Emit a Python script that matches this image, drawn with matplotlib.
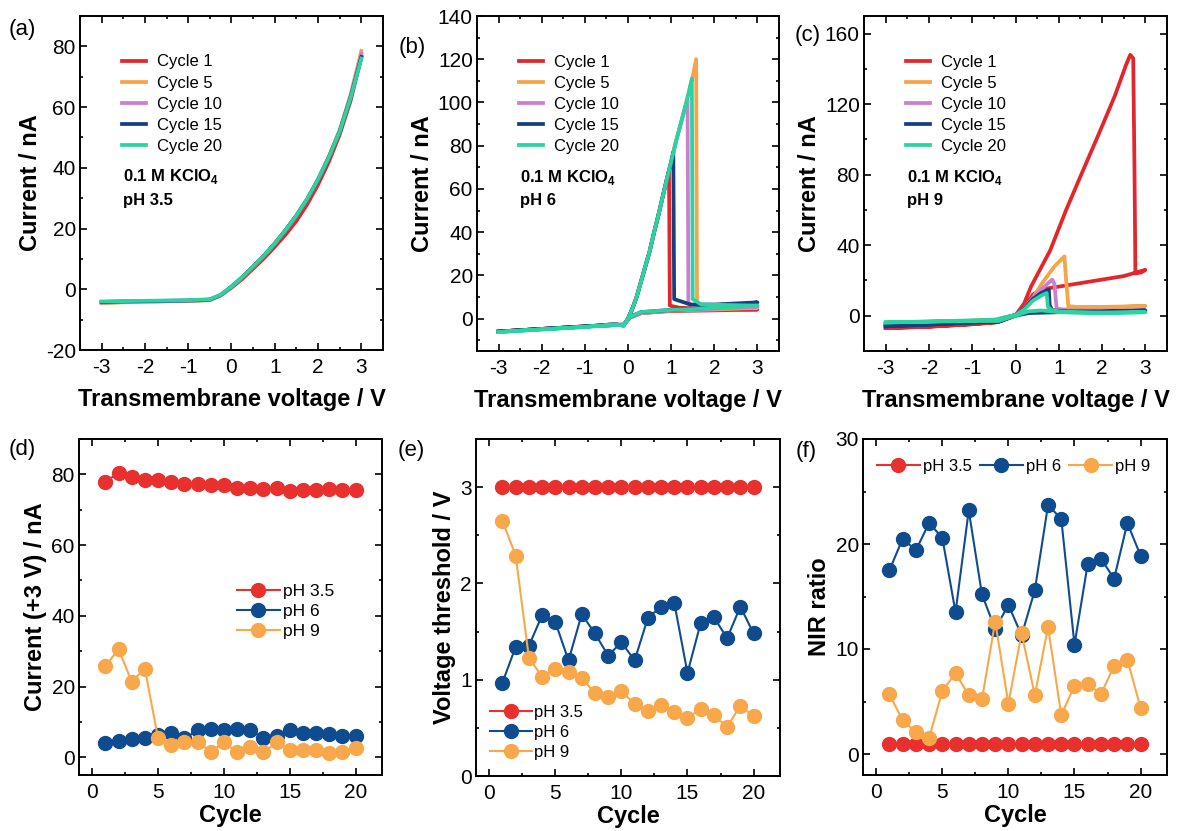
import numpy as np
import matplotlib
matplotlib.use("Agg")
import matplotlib.pyplot as plt
from matplotlib.ticker import MultipleLocator

plt.rcParams['font.family'] = ['Liberation Sans', 'DejaVu Sans']
plt.rcParams['mathtext.fontset'] = 'custom'
plt.rcParams['mathtext.rm'] = 'Liberation Sans'
plt.rcParams['mathtext.bf'] = 'Liberation Sans:bold'
plt.rcParams['axes.unicode_minus'] = False

# ---- I-V curves, panel (a) pH 3.5 ----
a_v = [-3, -2.5, -2, -1.5, -1, -0.5, -0.25, 0, 0.25, 0.5, 0.75, 1, 1.25, 1.5, 1.75, 2, 2.25, 2.5, 2.75, 3]
a_c1 = [-4.3, -4.1, -4.0, -3.9, -3.8, -3.5, -2.0, 0.5, 3.4, 6.8, 10.2, 14.0, 18.0, 22.5, 28.0, 34.5, 42.0, 51.0, 62.0, 76.5]
a_c5 = [-4.6, -4.3, -4.1, -4.0, -3.9, -3.6, -2.0, 0.8, 3.9, 7.4, 11.0, 15.0, 19.5, 24.3, 29.8, 36.3, 43.8, 52.5, 64.0, 78.5]
a_c10 = [-4.4, -4.2, -4.0, -3.9, -3.8, -3.5, -1.9, 0.8, 3.9, 7.4, 11.0, 15.0, 19.4, 24.2, 29.6, 36.0, 43.5, 52.2, 63.5, 77.5]
a_c15 = [-4.2, -4.0, -3.9, -3.8, -3.7, -3.4, -1.9, 0.9, 4.0, 7.5, 11.1, 15.1, 19.5, 24.3, 29.7, 36.1, 43.5, 52.0, 63.2, 76.5]
a_c20 = [-4.0, -3.9, -3.8, -3.7, -3.6, -3.3, -1.8, 0.9, 4.0, 7.5, 11.1, 15.1, 19.5, 24.3, 29.8, 36.2, 43.5, 52.0, 63.0, 76.0]

# ---- panel (b) pH 6 ----
b_c1_v = [-3, -2, -1, -0.3, -0.1, 0.0, 0.1, 0.2, 0.3, 0.4, 0.5, 0.6, 0.7, 0.8, 0.9, 0.95, 0.97, 1.2, 2.0, 3.0,
          2.0, 1.0, 0.3, 0.05, -0.1, -1, -2, -3]
b_c1_i = [-6, -4.8, -3.7, -2.6, -3.2, 0.0, 4.5, 10, 17, 24, 31, 39.5, 47.5, 56, 64.5, 68.5, 6, 5, 4.5, 4.2,
          3.8, 3.5, 2.5, 0.5, -2.8, -3.6, -4.8, -6]
b_c5_v = [-3, -2, -1, -0.3, -0.1, 0.0, 0.1, 0.2, 0.3, 0.4, 0.5, 0.6, 0.7, 0.8, 0.9, 1.0, 1.1, 1.2, 1.3, 1.4, 1.5, 1.58,
          1.6, 2.2, 3.0, 2.0, 1.0, 0.3, 0.05, -0.1, -1, -2, -3]
b_c5_i = [-6, -4.8, -3.7, -2.6, -3.2, 0.0, 4.5, 10, 17, 24, 31, 39.5, 47.5, 56, 64.5, 72.5, 81, 88.5, 96, 104, 112, 120,
          5.5, 5.2, 5.0, 4.2, 3.8, 2.5, 0.5, -2.8, -3.6, -4.8, -6]
b_c10_v = [-3, -2, -1, -0.3, -0.1, 0.0, 0.1, 0.2, 0.3, 0.4, 0.5, 0.6, 0.7, 0.8, 0.9, 1.0, 1.1, 1.2, 1.3, 1.38,
           1.4, 1.6, 3.0, 2.0, 1.0, 0.3, 0.05, -0.1, -1, -2, -3]
b_c10_i = [-6, -4.8, -3.7, -2.6, -3.2, 0.0, 4.5, 10, 17, 24, 31, 39.5, 47.5, 56, 64.5, 72.5, 81, 88.5, 96, 101,
           7, 5.5, 5.5, 4.5, 3.8, 2.5, 0.5, -2.8, -3.6, -4.8, -6]
b_c15_v = [-3, -2, -1, -0.3, -0.1, 0.0, 0.1, 0.2, 0.3, 0.4, 0.5, 0.6, 0.7, 0.8, 0.9, 1.0, 1.05,
           1.07, 1.3, 1.45, 2.0, 2.5, 3.0, 2.0, 1.0, 0.3, 0.05, -0.1, -1, -2, -3]
b_c15_i = [-6, -4.8, -3.7, -2.6, -3.2, 0.0, 4.5, 10, 17, 24, 31, 39.5, 47.5, 56, 64.5, 72.5, 77,
           9, 7.5, 6.5, 6.5, 7, 7.5, 5, 4, 3, 0.8, -2.8, -3.6, -4.8, -6]
b_c20_v = [-3, -2, -1, -0.3, -0.1, 0.0, 0.1, 0.2, 0.3, 0.4, 0.5, 0.6, 0.7, 0.8, 0.9, 1.0, 1.1, 1.2, 1.3, 1.4, 1.48,
           1.5, 1.7, 3.0, 2.0, 1.0, 0.3, 0.05, -0.1, -1, -2, -3]
b_c20_i = [-6.2, -5.0, -3.9, -2.7, -3.3, 0.0, 4.5, 10, 17, 24, 31, 39.5, 47.5, 56, 64.5, 72.5, 81, 88.5, 96, 104, 111,
           9, 6.5, 6.0, 4.8, 4.0, 3.0, 0.8, -2.8, -3.8, -5.0, -6.2]

# ---- panel (c) pH 9 ----
c_c1_v = [-3, -2, -1, -0.45, -0.35, 0, 0.2, 0.36, 0.8, 1.17, 1.5, 1.94, 2.3, 2.55, 2.65, 2.72, 2.75, 2.77, 2.9, 3.0,
          2.5, 2.0, 1.5, 1.0, 0.6, 0.4, 0.2, 0, -0.4, -1, -2, -3]
c_c1_i = [-7, -6.2, -4.8, -3.8, -3.0, 0.3, 7, 16.6, 37, 60, 79, 104, 125, 142, 148, 146, 80, 24, 24.5, 26,
          22.5, 20.5, 18.5, 16.5, 15, 12, 4, 0, -3.5, -4.8, -6.2, -7]
c_c5_v = [-3, -2, -1, -0.45, -0.35, 0, 0.2, 0.4, 0.6, 0.9, 1.13, 1.17, 1.22, 1.4, 2, 3,
          2, 1, 0.3, 0, -0.4, -1, -2, -3]
c_c5_i = [-4.5, -3.8, -2.8, -2.2, -1.5, 0.5, 4, 10, 18, 28, 33.7, 20, 5.5, 5, 5, 5.5,
          4.5, 3.5, 2, 0.5, -2.5, -2.9, -3.8, -4.5]
c_c10_v = [-3, -2, -1, -0.45, -0.35, 0, 0.2, 0.4, 0.6, 0.8, 0.85, 0.9, 0.95, 1.2, 2, 3,
           2, 1, 0.3, 0, -0.4, -1, -2, -3]
c_c10_i = [-4.8, -4.0, -3.0, -2.4, -1.6, 0.5, 4, 10, 15, 19.5, 20.5, 18, 4, 3, 3, 3,
           2.5, 2.5, 2, 0.3, -2.7, -3.0, -4.0, -4.8]
c_c15_v = [-3, -2, -1, -0.45, -0.35, 0, 0.2, 0.4, 0.6, 0.77, 0.79, 0.85, 1.2, 2, 3,
           2, 1, 0.3, 0, -0.4, -1, -2, -3]
c_c15_i = [-6, -5, -3.8, -3.2, -2.2, 0.5, 4, 9.5, 13, 14.8, 6, 3, 2.5, 2.5, 3,
           2.2, 2, 1.5, 0, -3.5, -3.8, -5, -6]
c_c20_v = [-3, -2, -1, -0.45, -0.35, 0, 0.2, 0.4, 0.6, 0.72, 0.75, 0.85, 1.2, 2, 3,
           2, 1, 0.6, 0.3, 0, -0.4, -1, -2, -3]
c_c20_i = [-3.8, -3.3, -2.6, -2.2, -1.5, 0.4, 3.5, 8.5, 11.5, 12.9, 5, 3, 2, 1.8, 2,
           1.5, 2, 3, 2.5, 0, -3, -3, -3.3, -3.8]

cycle_labels = ['Cycle 1', 'Cycle 5', 'Cycle 10', 'Cycle 15', 'Cycle 20']
cycle_colors = ['#e3262c', '#f5a44a', '#cc7fcc', '#163f80', '#2bd3a3']

# ---- per-cycle summaries ----
cycles = list(range(1, 21))
d_ph35 = [77.8, 80.5, 79.2, 78.4, 78.4, 77.9, 77.4, 77.4, 77.1, 76.9, 76.2, 76.2, 76.0, 76.2, 75.4, 75.7, 75.5, 75.9, 75.7, 75.7]
d_ph6 = [4.0, 4.6, 5.1, 5.4, 6.3, 6.8, 5.4, 7.6, 7.9, 7.6, 7.9, 7.7, 5.4, 6.0, 7.7, 6.8, 6.8, 6.6, 5.9, 5.9]
d_ph9 = [25.7, 30.6, 21.4, 25.1, 5.4, 3.5, 4.4, 4.4, 1.6, 4.2, 1.4, 2.8, 1.4, 4.2, 2.1, 2.1, 2.1, 1.1, 1.6, 2.5]

e_ph35 = [3.0] * 20
e_ph6 = [0.97, 1.34, 1.35, 1.67, 1.60, 1.20, 1.68, 1.48, 1.25, 1.39, 1.20, 1.64, 1.76, 1.80, 1.07, 1.59, 1.65, 1.43, 1.76, 1.48]
e_ph9 = [2.65, 2.29, 1.23, 1.03, 1.11, 1.08, 1.02, 0.86, 0.82, 0.88, 0.75, 0.67, 0.74, 0.66, 0.60, 0.70, 0.63, 0.51, 0.73, 0.62]

f_ph35 = [1.0] * 20
f_ph6 = [17.5, 20.5, 19.4, 22.0, 20.6, 13.5, 23.2, 15.2, 11.9, 14.2, 11.3, 15.6, 23.7, 22.4, 10.4, 18.1, 18.6, 16.7, 22.0, 18.9]
f_ph9 = [5.7, 3.2, 2.1, 1.5, 6.0, 7.7, 5.6, 5.2, 12.6, 4.8, 11.5, 5.6, 12.1, 3.7, 6.5, 6.7, 5.7, 8.4, 9.0, 4.4]

ph_labels = ['pH 3.5', 'pH 6', 'pH 9']
ph_colors = ['#e8312f', '#0f4b8f', '#f8a84a']


def style_axes(ax, xmaj, xmin, ymaj, ymin):
    ax.xaxis.set_major_locator(MultipleLocator(xmaj))
    ax.xaxis.set_minor_locator(MultipleLocator(xmin))
    ax.yaxis.set_major_locator(MultipleLocator(ymaj))
    ax.yaxis.set_minor_locator(MultipleLocator(ymin))
    ax.tick_params(which='both', direction='in', top=True, right=True, width=1.2, labelsize=15)
    ax.tick_params(which='major', length=5)
    ax.tick_params(axis='x', which='major', pad=6)
    ax.tick_params(axis='y', which='major', pad=3)
    ax.tick_params(which='minor', length=2.5)
    for sp in ax.spines.values():
        sp.set_linewidth(1.4)


fig = plt.figure(figsize=(11.77, 8.31), dpi=100)
W, H = 1177.0, 831.0


def add_ax(l, t, r, b):
    return fig.add_axes([l / W, 1 - b / H, (r - l) / W, (b - t) / H])


ax_a = add_ax(80, 16, 383, 350)
ax_b = add_ax(477, 16, 779, 351)
ax_c = add_ax(864, 16, 1167, 351)
ax_d = add_ax(79, 439, 382, 775)
ax_e = add_ax(476, 439, 780, 776)
ax_f = add_ax(863, 439, 1167, 775)

top_sets = [
    (ax_a, [(a_v, a_c1), (a_v, a_c5), (a_v, a_c10), (a_v, a_c15), (a_v, a_c20)], 'pH 3.5', (-20, 90), 20, 10),
    (ax_b, [(b_c1_v, b_c1_i), (b_c5_v, b_c5_i), (b_c10_v, b_c10_i), (b_c15_v, b_c15_i), (b_c20_v, b_c20_i)], 'pH 6', (-15, 140), 20, 10),
    (ax_c, [(c_c1_v, c_c1_i), (c_c5_v, c_c5_i), (c_c10_v, c_c10_i), (c_c15_v, c_c15_i), (c_c20_v, c_c20_i)], 'pH 9', (-20, 170), 40, 20),
]

for ax, curves, ph, ylim, ymaj, ymin in top_sets:
    for (v, i), lab, col in zip(curves, cycle_labels, cycle_colors):
        ax.plot(v, i, color=col, lw=2.7, label=lab, solid_joinstyle='round')
    ax.set_xlim(-3.5, 3.5)
    ax.set_ylim(*ylim)
    style_axes(ax, 1, 0.5, ymaj, ymin)
    ax.set_xlabel('Transmembrane voltage / V', fontsize=17, fontweight='bold', labelpad=8)
    ax.set_ylabel('Current / nA', fontsize=17, fontweight='bold', labelpad=3)
    ax.legend(loc='upper left', bbox_to_anchor=(0.14, 0.885), frameon=False, fontsize=12,
              handlelength=1.4, handletextpad=0.7, labelspacing=0.37, borderpad=0, borderaxespad=0)
    ax.text(0.142, 0.518, r'0.1 M KClO$_\mathbf{4}$', transform=ax.transAxes, fontsize=12,
            fontweight='bold', va='center')
    ax.text(0.142, 0.449, ph, transform=ax.transAxes, fontsize=12, fontweight='bold', va='center')

bottom_sets = [
    (ax_d, [d_ph35, d_ph6, d_ph9], (-5, 90), 20, 10, 'Current (+3 V) / nA'),
    (ax_e, [e_ph35, e_ph6, e_ph9], (0, 3.5), 1, 0.5, 'Voltage threshold / V'),
    (ax_f, [f_ph35, f_ph6, f_ph9], (-2, 30), 10, 5, 'NIR ratio'),
]

for ax, series, ylim, ymaj, ymin, ylab in bottom_sets:
    for vals, lab, col in zip(series, ph_labels, ph_colors):
        ax.plot(cycles, vals, color=col, lw=1.5, marker='o', ms=10, label=lab)
    ax.set_xlim(-1, 22)
    ax.set_ylim(*ylim)
    style_axes(ax, 5, 2.5, ymaj, ymin)
    ax.set_xlabel('Cycle', fontsize=17, fontweight='bold', labelpad=1)
    ax.set_ylabel(ylab, fontsize=17, fontweight='bold', labelpad=3)

ax_d.legend(loc='upper left', bbox_to_anchor=(0.52, 0.57), frameon=False, fontsize=12.5,
            handlelength=2.5, handletextpad=0.15, labelspacing=0.3, borderpad=0, borderaxespad=0)
ax_e.legend(loc='upper left', bbox_to_anchor=(0.046, 0.21), frameon=False, fontsize=12,
            handlelength=2.5, handletextpad=0.15, labelspacing=0.3, borderpad=0, borderaxespad=0)
ax_f.legend(loc='upper left', bbox_to_anchor=(0.045, 0.94), frameon=False, fontsize=12, ncol=3,
            handlelength=2.6, handletextpad=0.15, columnspacing=0.5, borderpad=0, borderaxespad=0)

# panel letters
for lab, x, y in [('(a)', 22, 29), ('(b)', 412, 47), ('(c)', 808, 35),
                  ('(d)', 22, 449), ('(e)', 411, 450), ('(f)', 806, 452)]:
    fig.text(x / W, 1 - y / H, lab, fontsize=16, ha='center', va='center')

fig.savefig('out.png', dpi=100)
